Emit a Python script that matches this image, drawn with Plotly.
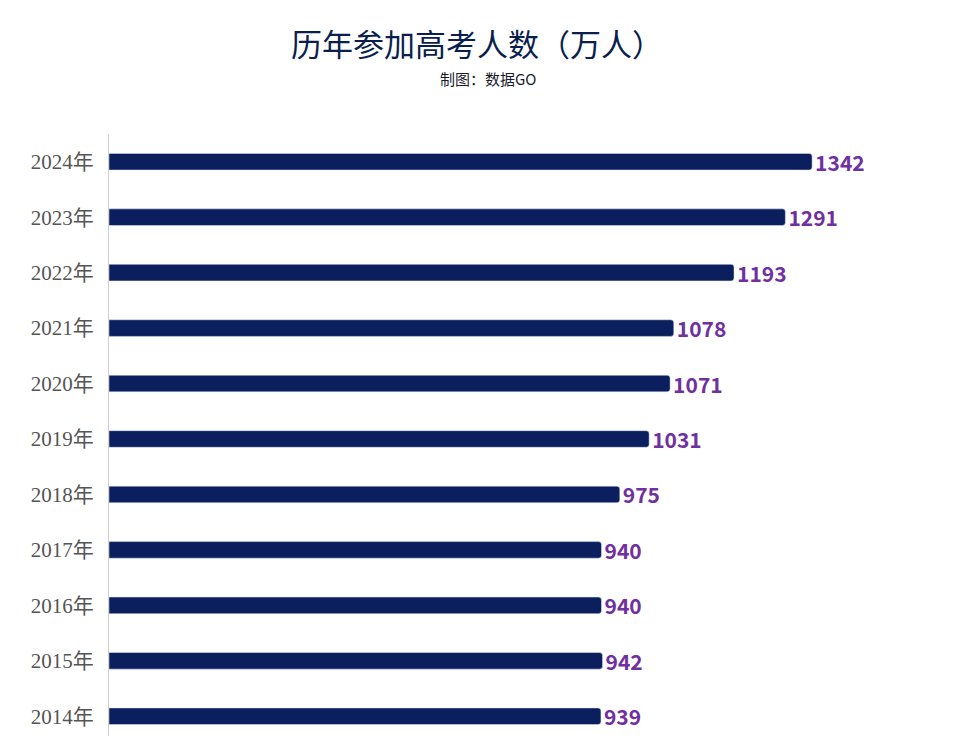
import plotly.graph_objects as go

years = ["2014年","2015年","2016年","2017年","2018年","2019年","2020年","2021年","2022年","2023年","2024年"]
values = [939, 942, 940, 940, 975, 1031, 1071, 1078, 1193, 1291, 1342]

fig = go.Figure(go.Bar(
    y=years, x=values, orientation="h", width=0.3,
    marker=dict(color="#0B1F5E", cornerradius=3),
    text=["<b>%d</b>" % v for v in values], textposition="outside",
    constraintext="none",
    textfont=dict(color="#7030A0", size=21, family="Noto Sans CJK SC"),
    cliponaxis=False,
))
fig.update_layout(
    width=977, height=736, paper_bgcolor="white", plot_bgcolor="white",
    margin=dict(l=101, r=0, t=126, b=0),
    showlegend=False,
    title=dict(text="历年参加高考人数（万人）", x=0.48, xanchor="center", y=1-(37/736), yanchor="middle",
               font=dict(size=31, color="#0B1F4E", family="Noto Sans CJK SC")),
    annotations=[dict(text="制图：数据GO", x=0.491, xref="paper", xanchor="center",
                      y=1+(126-70)/610, yref="paper", yanchor="middle", showarrow=False,
                      font=dict(size=15, color="#1a1a2e", family="Noto Sans CJK SC"))],
)
fig.layout.annotations[0].update(x=(488-8-101)/876)
fig.update_xaxes(range=[0, 1672], visible=False)
fig.update_yaxes(showline=True, linecolor="#d0d0d0", linewidth=1, ticks="",
                 tickfont=dict(size=21, color="#555555", family="Liberation Serif, Noto Sans CJK SC"),
                 ticklabelstandoff=10)
fig.write_html("out.html")
